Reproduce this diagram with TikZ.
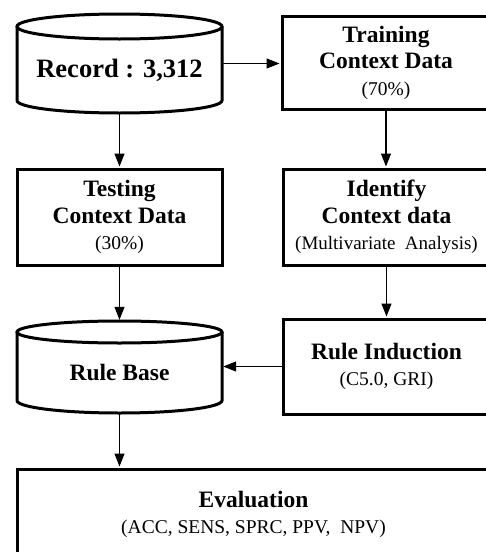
\documentclass[tikz,border=0pt]{standalone}
\usepackage{fontspec}
\setmainfont{Liberation Serif}
\usetikzlibrary{arrows.meta}
\begin{document}
\begin{tikzpicture}[x=1pt,y=1pt,
  box/.style={draw, line width=3pt, rectangle, align=center, inner sep=0pt,
    font=\fontsize{23.5}{26.5}\selectfont\bfseries},
  ghost/.style={rectangle, inner sep=0pt},
  cyl/.style={line width=3pt},
  cyltext/.style={inner sep=0pt, font=\fontsize{23.5}{26}\selectfont\bfseries},
  arr/.style={line width=1.1pt, -{Triangle[length=13pt,width=10pt]}, shorten >=1pt},
  sub/.style={}]
\useasboundingbox (0,0) rectangle (486,-552);
\clip (0,0) rectangle (486,-552);

% Record cylinder
\node[ghost, minimum width=205pt, minimum height=99pt] (record) at (119.5,-63.5) {};
\draw[cyl] (17,-26.5) -- (17,-100.5) arc[start angle=180,end angle=360,x radius=102.5pt,y radius=12.5pt] -- (222,-26.5);
\draw[cyl] (119.5,-26.5) ellipse [x radius=102.5pt, y radius=12.5pt];
\node[cyltext, font=\fontsize{26.5}{30}\selectfont\bfseries] (recordtext) at (119.5,-70) {Record : 3,312};

% Rule base cylinder
\node[ghost, minimum width=205pt, minimum height=92pt] (rulebase) at (119.5,-367) {};
\draw[cyl] (17,-332) -- (17,-400.5) arc[start angle=180,end angle=360,x radius=102.5pt,y radius=12.5pt] -- (222,-332);
\draw[cyl] (119.5,-332) ellipse [x radius=102.5pt, y radius=11pt];
\node[cyltext] (rulebasetext) at (119.5,-372) {Rule Base};

% Boxes
\node[box, minimum width=208pt, minimum height=93pt] (training) at (386,-62.5)
  {Training\\Context Data\\{\mdseries\fontsize{19.5}{26}\selectfont (70\%)}};
\node[box, minimum width=205pt, minimum height=96pt] (testing) at (119.5,-217)
  {Testing\\Context Data\\{\mdseries\fontsize{19.5}{26}\selectfont (30\%)}};
\node[box, minimum width=207pt, minimum height=96pt] (identify) at (386.5,-217)
  {Identify\\Context data\\{\mdseries\fontsize{19}{26}\selectfont (Multivariate\ \ Analysis)}};
\node[box, minimum width=207pt, minimum height=95pt] (induction) at (386.5,-366.5)
  {Rule Induction\\{\mdseries\fontsize{19.5}{26}\selectfont (C5.0, GRI)}};
\node[box, minimum width=473pt, minimum height=91pt] (evaluation) at (253.5,-514.5)
  {Evaluation\\{\mdseries\fontsize{19.5}{26}\selectfont (ACC, SENS, SPRC, PPV,\ \ NPV)}};

% Connectors
\draw[arr] (record.east) -- (record.east -| training.west);
\draw[arr] (record.south) -- (testing.north);
\draw[arr] (training.south) -- (training.south |- identify.north);
\draw[arr] (testing.south) -- (rulebase.north);
\draw[arr] (identify.south) -- (induction.north);
\draw[arr] (induction.west) -- (induction.west -| rulebase.east);
\draw[arr] (rulebase.south) -- (rulebase.south |- evaluation.north);
\end{tikzpicture}
\end{document}
